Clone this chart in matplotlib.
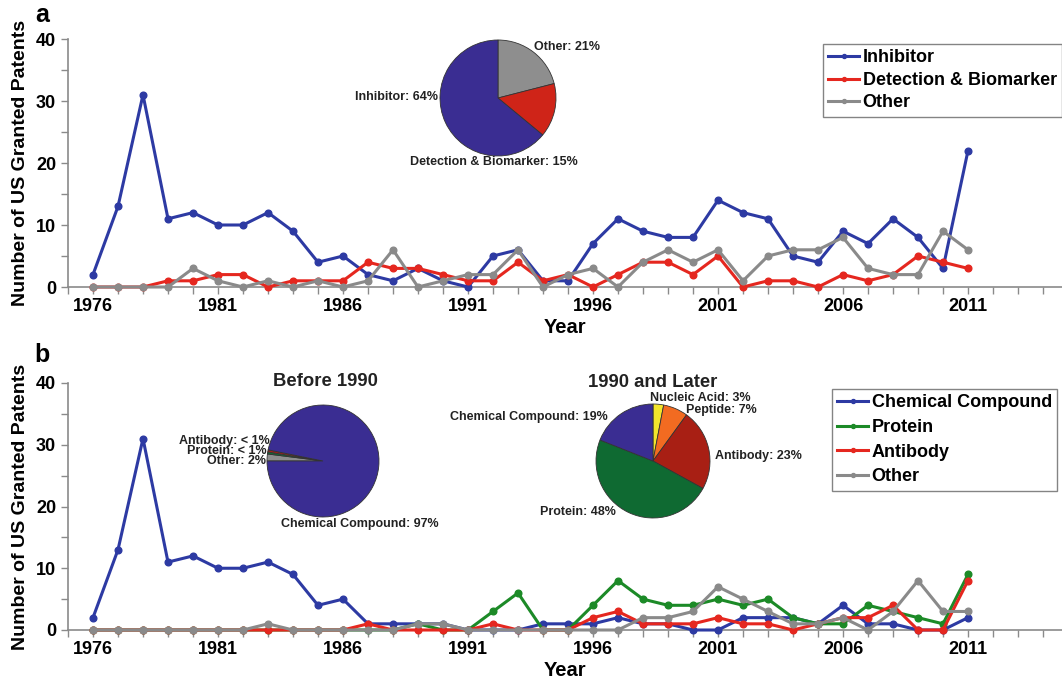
import matplotlib
matplotlib.use("Agg")
import matplotlib.pyplot as plt
from matplotlib.ticker import FixedLocator

plt.rcParams['font.family'] = ['Liberation Sans', 'DejaVu Sans']
plt.rcParams['font.weight'] = 'bold'

years = list(range(1976, 2012))

# Panel a
inhibitor = [2, 13, 31, 11, 12, 10, 10, 12, 9, 4, 5, 2, 1, 3, 1, 0, 5, 6,
             1, 1, 7, 11, 9, 8, 8, 14, 12, 11, 5, 4, 9, 7, 11, 8, 3, 22]
detection = [0, 0, 0, 1, 1, 2, 2, 0, 1, 1, 1, 4, 3, 3, 2, 1, 1, 4,
             1, 2, 0, 2, 4, 4, 2, 5, 0, 1, 1, 0, 2, 1, 2, 5, 4, 3]
other_a = [0, 0, 0, 0, 3, 1, 0, 1, 0, 1, 0, 1, 6, 0, 1, 2, 2, 6,
           0, 2, 3, 0, 4, 6, 4, 6, 1, 5, 6, 6, 8, 3, 2, 2, 9, 6]

# Panel b
chemical = [2, 13, 31, 11, 12, 10, 10, 11, 9, 4, 5, 1, 1, 1, 1, 0, 0, 0,
            1, 1, 1, 2, 1, 1, 0, 0, 2, 2, 2, 1, 4, 1, 1, 0, 0, 2]
protein = [0, 0, 0, 0, 0, 0, 0, 0, 0, 0, 0, 0, 0, 1, 0, 0, 3, 6,
           0, 0, 4, 8, 5, 4, 4, 5, 4, 5, 2, 1, 1, 4, 3, 2, 1, 9]
antibody = [0, 0, 0, 0, 0, 0, 0, 0, 0, 0, 0, 1, 0, 0, 0, 0, 1, 0,
            0, 0, 2, 3, 1, 1, 1, 2, 1, 1, 0, 1, 2, 2, 4, 0, 0, 8]
other_b = [0, 0, 0, 0, 0, 0, 0, 1, 0, 0, 0, 0, 0, 1, 1, 0, 0, 0,
           0, 0, 0, 0, 2, 2, 3, 7, 5, 3, 1, 1, 2, 0, 3, 8, 3, 3]

# Pies
pie_a_labels = ['Other', 'Detection & Biomarker', 'Inhibitor']
pie_a_values = [21, 15, 64]
pie_b1_labels = ['Other', 'Protein', 'Antibody', 'Chemical Compound']
pie_b1_values = [2, 0.6, 0.6, 96.8]
pie_b1_text = ['2%', '< 1%', '< 1%', '97%']
pie_b2_labels = ['Nucleic Acid', 'Peptide', 'Antibody', 'Protein', 'Chemical Compound']
pie_b2_values = [3, 7, 23, 48, 19]

major_years = [1976, 1981, 1986, 1991, 1996, 2001, 2006, 2011]

C_BLUE = '#2d3aa3'
C_RED = '#e5271f'
C_GREY = '#8a8a8a'
C_GREEN = '#1c8a27'
P_BLUE = '#3a2d92'
P_RED = '#cf2418'
P_GREY = '#8e8e8e'
P_GREEN = '#0f6a32'
P_DRED = '#a81f14'
P_ORANGE = '#f26b21'
P_YELLOW = '#f3e52c'

W, H = 1062, 682
fig = plt.figure(figsize=(W / 100, H / 100), dpi=100)


def fx(x):
    return x / W


def fy(y):
    return 1 - y / H


def make_axes(top, bottom):
    ax = fig.add_axes([fx(68), fy(bottom), fx(1062) - fx(68), fy(top) - fy(bottom)])
    ax.set_xlim(1975, 1975 + (1062 - 68) / 25)
    ax.set_ylim(0, 40)
    for s in ['top', 'right']:
        ax.spines[s].set_visible(False)
    for s in ['left', 'bottom']:
        ax.spines[s].set_color('#8a8a8a')
        ax.spines[s].set_linewidth(1.2)
    ax.xaxis.set_major_locator(FixedLocator(major_years))
    ax.xaxis.set_minor_locator(FixedLocator(list(range(1975, 2015))))
    ax.set_yticks([0, 10, 20, 30, 40])
    ax.yaxis.set_minor_locator(FixedLocator([5, 15, 25, 35]))
    ax.tick_params(axis='both', which='both', direction='out', color='#8a8a8a',
                   length=5, width=1, labelsize=13)
    ax.tick_params(axis='x', which='major', pad=3)
    for lab in ax.get_xticklabels() + ax.get_yticklabels():
        lab.set_fontweight('bold')
    ax.set_xlabel('Year', fontsize=14.5, fontweight='bold', labelpad=2)
    ax.set_ylabel('Number of US Granted Patents', fontsize=14, fontweight='bold', labelpad=5)
    ax.patch.set_alpha(0)
    return ax


def plot_series(ax, vals, color, label):
    ax.plot(years, vals, color=color, lw=2.2, marker='o', ms=4.8, label=label,
            clip_on=False, zorder=3)


def txt(x, y, s, ha='left', size=9, va='center'):
    fig.text(fx(x), fy(y), s, ha=ha, va=va, fontsize=size, fontweight='bold', color='#222222')


def pie_axes(cx, cy, r):
    a = fig.add_axes([fx(cx - r), fy(cy + r), fx(2 * r), fy(cy - r) - fy(cy + r)])
    a.axis('off')
    return a


def style_legend(leg):
    leg.get_frame().set_edgecolor('#666666')
    leg.get_frame().set_linewidth(1.0)


wp = dict(edgecolor='#333333', linewidth=0.6)
axw = fx(1062) - fx(68)

# ---------- Panel a ----------
axa = make_axes(39, 287)
plot_series(axa, inhibitor, C_BLUE, 'Inhibitor')
plot_series(axa, detection, C_RED, 'Detection & Biomarker')
plot_series(axa, other_a, C_GREY, 'Other')
leg = axa.legend(loc='upper left', bbox_to_anchor=(fx(823 - 68) / axw, 1.0 - 5 / 248),
                 prop={'weight': 'bold', 'size': 13}, handlelength=1.7, handletextpad=0.2,
                 borderpad=0.3, labelspacing=0.3, frameon=True, fancybox=False,
                 borderaxespad=0, markerscale=0.6)
style_legend(leg)
fig.text(fx(42), fy(15), 'a', fontsize=18, fontweight='bold', ha='center', va='center')

pa = pie_axes(498, 98, 58)
pa.pie(pie_a_values, colors=[P_GREY, P_RED, P_BLUE], startangle=90, counterclock=False,
       wedgeprops=wp, radius=1)
pa.set_xlim(-1, 1)
pa.set_ylim(-1, 1)
txt(534, 47, '%s: %d%%' % (pie_a_labels[0], pie_a_values[0]))
txt(438, 97, '%s: %d%%' % (pie_a_labels[2], pie_a_values[2]), ha='right')
txt(494, 162, '%s: %d%%' % (pie_a_labels[1], pie_a_values[1]), ha='center')

# ---------- Panel b ----------
axb = make_axes(383, 630)
plot_series(axb, chemical, C_BLUE, 'Chemical Compound')
plot_series(axb, protein, C_GREEN, 'Protein')
plot_series(axb, antibody, C_RED, 'Antibody')
plot_series(axb, other_b, C_GREY, 'Other')
legb = axb.legend(loc='upper left', bbox_to_anchor=(fx(832 - 68) / axw, 1.0 - 6 / 247),
                  prop={'weight': 'bold', 'size': 13}, handlelength=1.7, handletextpad=0.2,
                  borderpad=0.3, labelspacing=0.42, frameon=True, fancybox=False,
                  borderaxespad=0, markerscale=0.6)
style_legend(legb)
fig.text(fx(42), fy(355), 'b', fontsize=18, fontweight='bold', ha='center', va='center')

pb1 = pie_axes(323, 461, 56)
pb1.pie(pie_b1_values, colors=[P_GREY, P_GREEN, P_DRED, P_BLUE], startangle=180,
        counterclock=False, wedgeprops=wp, radius=1)
pb1.set_xlim(-1, 1)
pb1.set_ylim(-1, 1)
txt(325, 382, 'Before 1990', ha='center', size=13.3)
txt(270, 441, '%s: %s' % (pie_b1_labels[2], pie_b1_text[2]), ha='right')
txt(267, 451, '%s: %s' % (pie_b1_labels[1], pie_b1_text[1]), ha='right')
txt(266, 461, '%s: %s' % (pie_b1_labels[0], pie_b1_text[0]), ha='right')
txt(360, 524, '%s: %s' % (pie_b1_labels[3], pie_b1_text[3]), ha='center')

pb2 = pie_axes(653, 461, 57)
pb2.pie(pie_b2_values, colors=[P_YELLOW, P_ORANGE, P_DRED, P_GREEN, P_BLUE], startangle=90,
        counterclock=False, wedgeprops=wp, radius=1)
pb2.set_xlim(-1, 1)
pb2.set_ylim(-1, 1)
txt(653, 383, '1990 and Later', ha='center', size=13.3)
txt(650, 398, '%s: %d%%' % (pie_b2_labels[0], pie_b2_values[0]))
txt(686, 410, '%s: %d%%' % (pie_b2_labels[1], pie_b2_values[1]))
txt(715, 456, '%s: %d%%' % (pie_b2_labels[2], pie_b2_values[2]))
txt(616, 512, '%s: %d%%' % (pie_b2_labels[3], pie_b2_values[3]), ha='right')
txt(608, 417, '%s: %d%%' % (pie_b2_labels[4], pie_b2_values[4]), ha='right')

fig.savefig('out.png', dpi=100)
